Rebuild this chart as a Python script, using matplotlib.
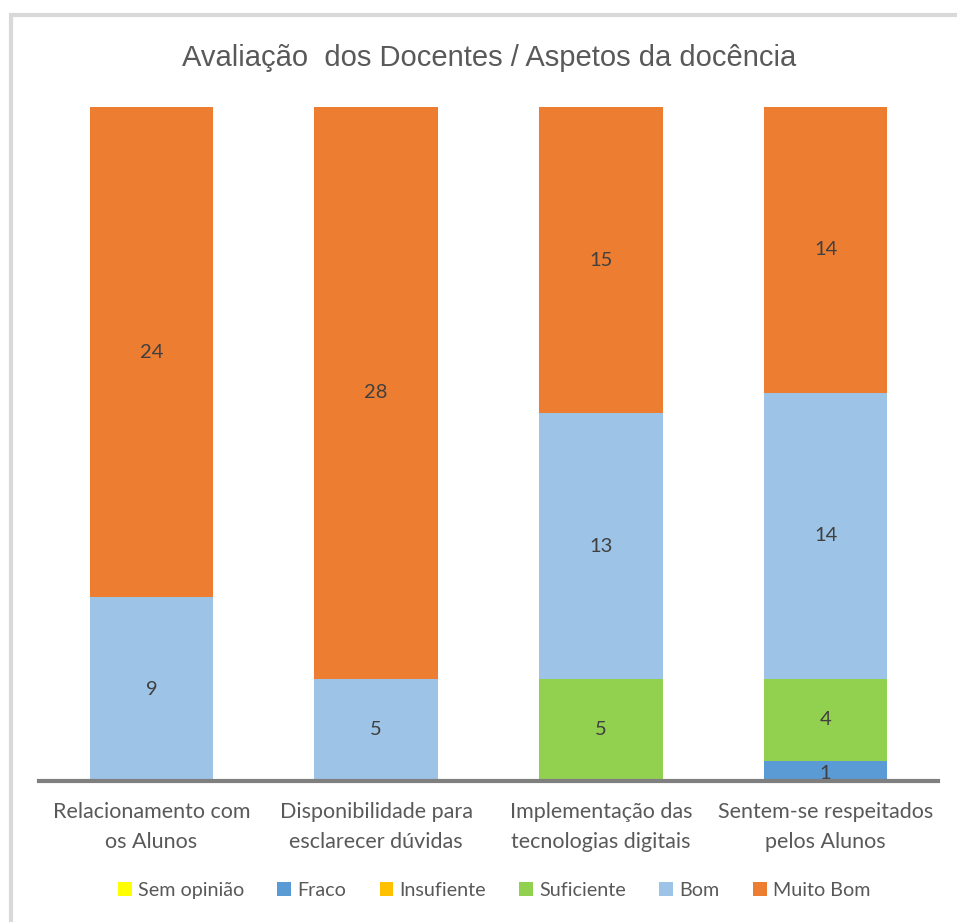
import matplotlib
matplotlib.use("Agg")
import matplotlib.pyplot as plt
from matplotlib.patches import Patch, Rectangle

categories = ["Relacionamento com\nos Alunos", "Disponibilidade para\nesclarecer dúvidas",
              "Implementação das\ntecnologias digitais", "Sentem-se respeitados\npelos Alunos"]
series_names = ["Sem opinião", "Fraco", "Insufiente", "Suficiente", "Bom", "Muito Bom"]
sem_opiniao = [0, 0, 0, 0]
fraco = [0, 0, 0, 1]
insufiente = [0, 0, 0, 0]
suficiente = [0, 0, 5, 4]
bom = [9, 5, 13, 14]
muito_bom = [24, 28, 15, 14]
series_values = [sem_opiniao, fraco, insufiente, suficiente, bom, muito_bom]
colors = ["#FFFF00", "#5B9BD5", "#FFC000", "#92D050", "#9DC3E6", "#ED7D31"]

W, H = 957, 922
fig = plt.figure(figsize=(W / 100, H / 100), dpi=100)
fig.patch.set_facecolor("white")

# frame
fig.patches.append(Rectangle((11 / W, -0.1), 1.2, 1 - 15 / H + 0.1, transform=fig.transFigure,
                             fill=False, edgecolor="#D9D9D9", linewidth=3))

ax = fig.add_axes([39 / W, 1 - 781 / H, (938 - 39) / W, (781 - 107) / H])
x = list(range(len(categories)))
bottoms = [0] * len(categories)
for name, vals, col in zip(series_names, series_values, colors):
    ax.bar(x, vals, width=0.55, bottom=bottoms, color=col, label=name, zorder=2)
    for i, v in enumerate(vals):
        if v > 0:
            ax.text(i, bottoms[i] + v / 2 - (0.15 if v == 1 else 0), str(v), ha="center", va="center",
                    fontsize=14.5, color="#404040", family="Lato", zorder=3)
    bottoms = [b + v for b, v in zip(bottoms, vals)]

ax.set_xlim(-0.5, 3.5)
ax.set_ylim(0, 33)
for s in ["top", "right", "left"]:
    ax.spines[s].set_visible(False)
ax.spines["bottom"].set_color("#7F7F7F")
ax.spines["bottom"].set_linewidth(3)
ax.spines["bottom"].set_zorder(4)
ax.set_yticks([])
ax.set_xticks(x)
ax.set_xticklabels(categories, fontsize=15.5, color="#595959", family="Lato", linespacing=1.65)
ax.tick_params(axis="x", length=0, pad=15)

fig.text(489 / W, 1 - 58 / H, "Avaliação  dos Docentes / Aspetos da docência", ha="center", va="center",
         fontsize=21, color="#595959", family="Liberation Sans")

handles = [Patch(facecolor=c, label=n) for n, c in zip(series_names, colors)]
fig.legend(handles=handles, loc="center", bbox_to_anchor=(494 / W, 1 - 890 / H), ncol=6,
           frameon=False, handlelength=0.7, handleheight=0.7, handletextpad=0.3,
           columnspacing=1.7, prop={"family": "Lato", "size": 14.2}, labelcolor="#595959")

fig.savefig("out.png", dpi=100)
